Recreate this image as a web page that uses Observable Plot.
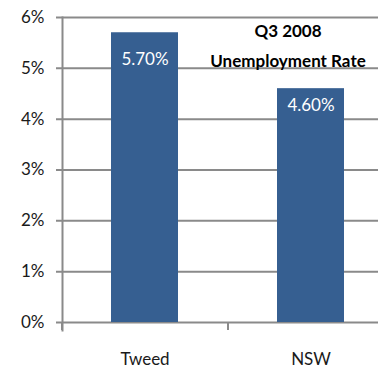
<!DOCTYPE html>
<html>
<head>
<meta charset="utf-8">
<script src="https://cdn.jsdelivr.net/npm/d3@7"></script>
<script src="https://cdn.jsdelivr.net/npm/@observablehq/plot@0.6"></script>
<style>
  html, body { margin: 0; padding: 0; background: #fff; }
  #chart { width: 378px; height: 374px; }
</style>
</head>
<body>
<div id="chart"></div>
<script>
const categories = ["Tweed", "NSW"];
const rates = [5.7, 4.6];
const valueLabels = ["5.70%", "4.60%"];
const yTicks = [0, 1, 2, 3, 4, 5, 6];
const titleLines = ["Q3 2008", "Unemployment Rate"];

const data = categories.map((c, i) => ({region: c, rate: rates[i], label: valueLabels[i]}));
const gridColor = "#8a8a8a";
const font = "Lato, 'Liberation Sans', Arial, sans-serif";

const chart = Plot.plot({
  width: 378,
  height: 374,
  marginLeft: 62,
  marginRight: 0,
  marginTop: 17,
  marginBottom: 52,
  style: {fontFamily: font, fontSize: "17px", background: "white", color: "#1a1a1a", overflow: "visible"},
  x: {domain: categories, range: [62, 394], paddingInner: 0.596, paddingOuter: 0.298, align: 0.5, label: null},
  y: {domain: [0, 6], label: null},
  marks: [
    Plot.ruleY(yTicks, {y: d => d, stroke: gridColor, strokeWidth: 2, insetLeft: -6}),
    Plot.barY(data, {x: "region", y: "rate", fill: "#365F91"}),
    Plot.frame({anchor: "left", stroke: gridColor, strokeWidth: 2, insetBottom: -8}),
    Plot.axisY({ticks: yTicks, tickSize: 0, tickPadding: 18, tickFormat: d => d + "%", fontSize: 17, label: null}),
    Plot.axisX({tickSize: 0, tickPadding: 30, fontSize: 17, label: null}),
    Plot.axisX({tickSize: 8, fill: "none", stroke: gridColor, strokeWidth: 2, dx: -83, label: null}),
    Plot.text(data.filter(d => d.region === "Tweed"), {x: "region", y: "rate", text: "label", fill: "white", lineAnchor: "top", dy: 20, fontSize: 17}),
    Plot.text(data.filter(d => d.region === "NSW"), {x: "region", y: "rate", text: "label", fill: "white", lineAnchor: "top", dy: 10, fontSize: 17}),
    Plot.text([titleLines.join("\n")], {text: d => d, frameAnchor: "top-left", dx: 225.5, dy: -2, textAnchor: "middle", lineAnchor: "top", lineHeight: 1.76, fontWeight: "bold", fontSize: 17, fill: "#000"})
  ]
});
document.getElementById("chart").appendChild(chart);
</script>
</body>
</html>
